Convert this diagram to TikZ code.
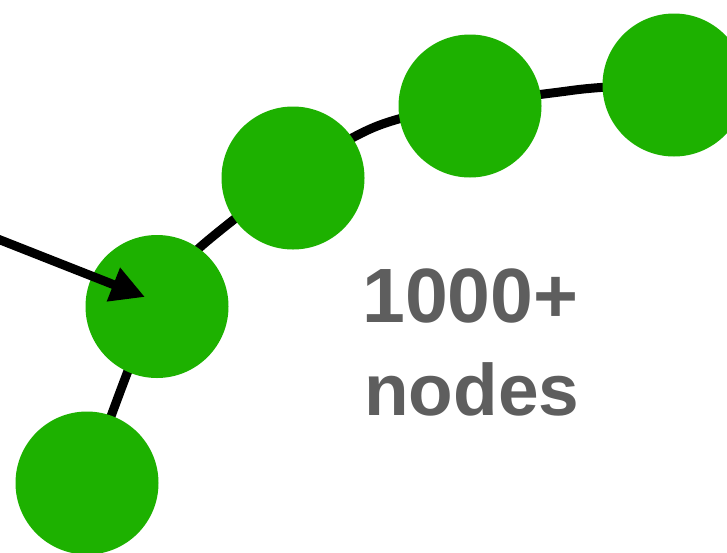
\documentclass[tikz,border=0pt]{standalone}
\usepackage{fontspec}
\setmainfont{Liberation Sans}
\usetikzlibrary{arrows.meta}
\definecolor{nodegreen}{HTML}{1DB100}
\definecolor{txtgray}{HTML}{5E5E5E}
\begin{document}
\begin{tikzpicture}[x=1pt,y=-1pt,
  gnode/.style={circle,fill=nodegreen,minimum size=143pt,inner sep=0pt,draw=none},
  chain/.style={line width=9pt,black},
  ptr/.style={line width=9pt,black,-{Triangle[length=34pt,width=34pt]}},
  bigtxt/.style={text=txtgray,inner sep=0pt,font=\bfseries}]
\useasboundingbox (0,0) rectangle (727,552);
\coordinate (p1) at (87,483);
\coordinate (p2) at (155,306);
\coordinate (p3) at (217,233);
\coordinate (p4) at (376,126.5);
\coordinate (p5) at (571,90.5);
\coordinate (p6) at (674,85);
\draw[chain] plot[smooth,tension=0.5] coordinates {(p1) (p2) (p3) (p4) (p5) (p6)};
\node[gnode] (n1) at (87,483) {};
\node[gnode] (n2) at (157,306.5) {};
\node[gnode] (n3) at (293,178) {};
\node[gnode] (n4) at (470,106) {};
\node[gnode] (n5) at (674,85) {};
\coordinate (src) at (-6,237.5);
\coordinate (tip) at (145,297);
\draw[ptr] (src) -- (tip);
\node[bigtxt,anchor=base west] (t1) at (362,322) {\fontsize{77}{77}\selectfont 1000+};
\node[bigtxt,anchor=base west] (t2) at (364,415) {\fontsize{73}{73}\selectfont nodes};
\end{tikzpicture}
\end{document}
